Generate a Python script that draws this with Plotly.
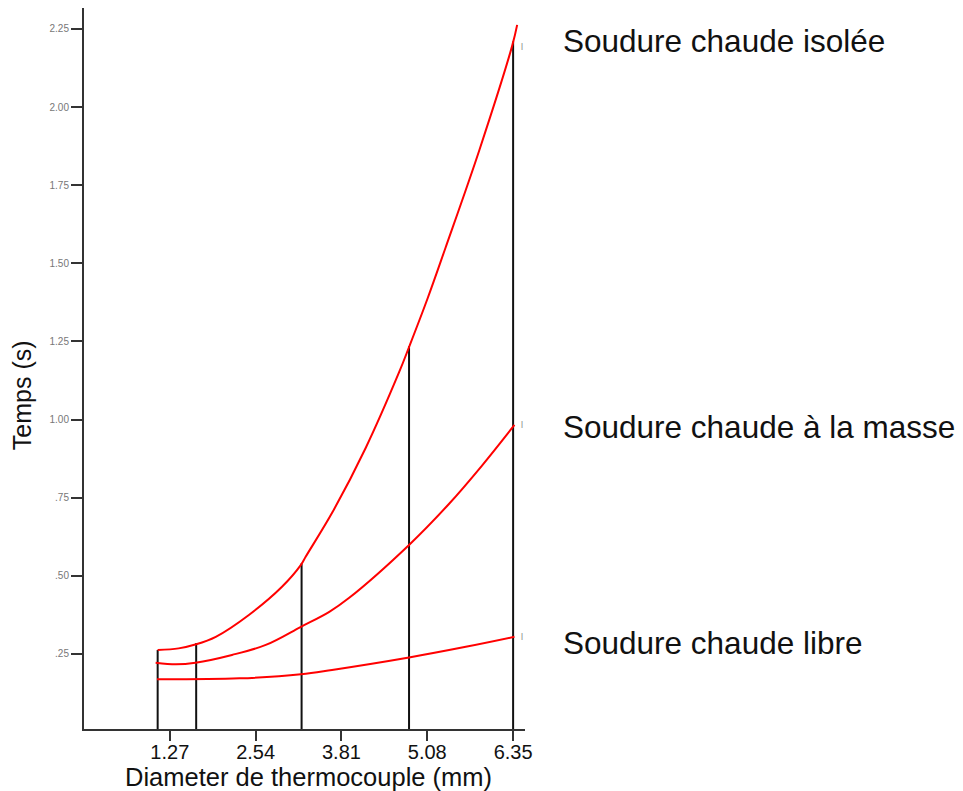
import plotly.graph_objects as go

# ---- data ----
diam_isolee = [1.09, 1.40, 1.66, 1.95, 2.44, 2.93, 3.21, 3.28, 3.68, 4.17, 4.66, 4.81, 5.08, 5.35, 5.85, 6.34, 6.41]
temps_isolee = [0.263, 0.268, 0.281, 0.305, 0.375, 0.465, 0.535, 0.561, 0.705, 0.910, 1.150, 1.232, 1.385, 1.550, 1.862, 2.199, 2.263]

diam_masse = [1.06, 1.36, 1.65, 2.19, 2.69, 3.21, 3.63, 3.92, 4.81, 5.40, 5.89, 6.37]
temps_masse = [0.222, 0.217, 0.222, 0.247, 0.279, 0.337, 0.385, 0.429, 0.599, 0.730, 0.853, 0.983]

diam_libre = [1.08, 2.30, 3.21, 3.67, 4.81, 5.65, 6.37]
temps_libre = [0.169, 0.172, 0.185, 0.199, 0.239, 0.273, 0.305]

repere_diam = [1.09, 1.66, 3.22, 4.81, 6.35]
repere_temps = [0.263, 0.285, 0.54, 1.235, 2.21]

x_ticks = [1.27, 2.54, 3.81, 5.08, 6.35]
x_ticktext = ["1.27", "2.54", "3.81", "5.08", "6.35"]
y_ticks = [0.25, 0.5, 0.75, 1.0, 1.25, 1.5, 1.75, 2.0, 2.25]
y_ticktext = [".25", ".50", ".75", "1.00", "1.25", "1.50", "1.75", "2.00", "2.25"]

labels = ["Soudure chaude isolée", "Soudure chaude à la masse", "Soudure chaude libre"]
label_y = [2.21, 0.975, 0.285]

FONT = "Arial, Liberation Sans, Helvetica, sans-serif"

fig = go.Figure()

# vertical reference lines
vx, vy = [], []
for d, t in zip(repere_diam, repere_temps):
    vx += [d, d, None]
    vy += [0, t, None]
fig.add_trace(go.Scatter(x=vx, y=vy, mode="lines",
                         line=dict(color="#111111", width=2), hoverinfo="skip"))

for xs, ys in [(diam_isolee, temps_isolee), (diam_masse, temps_masse), (diam_libre, temps_libre)]:
    fig.add_trace(go.Scatter(x=xs, y=ys, mode="lines",
                             line=dict(color="#ff0000", width=2, shape="spline", smoothing=1.0)))

annotations = []
for txt, yv in zip(labels, label_y):
    annotations.append(dict(text=txt, xref="paper", yref="y", x=1.082, y=yv,
                            xanchor="left", yanchor="middle", showarrow=False,
                            font=dict(family=FONT, size=31.5, color="#111111")))
# tiny marks at the curve ends
for yv in [temps_isolee[-1] - 0.07, temps_masse[-1], temps_libre[-1]]:
    annotations.append(dict(text="l", xref="x", yref="y", x=6.35, y=yv, xshift=9,
                            xanchor="center", yanchor="middle", showarrow=False,
                            font=dict(family=FONT, size=9, color="#888888")))
annotations.append(dict(text="Temps (s)", xref="paper", yref="paper", x=-0.1406, y=0.463,
                        textangle=-90, xanchor="center", yanchor="middle", showarrow=False,
                        font=dict(family=FONT, size=25, color="#111111")))
annotations.append(dict(text="Diameter de thermocouple (mm)", xref="paper", yref="paper",
                        x=0.51, y=-0.066, xanchor="center", yanchor="middle", showarrow=False,
                        font=dict(family=FONT, size=25.5, color="#111111")))

fig.update_layout(
    width=955, height=783,
    margin=dict(l=76, r=438, t=0, b=62, pad=0),
    paper_bgcolor="white", plot_bgcolor="white",
    showlegend=False,
    annotations=annotations,
    xaxis=dict(range=[0, 6.526], tickvals=x_ticks, ticktext=x_ticktext,
               ticks="outside", ticklen=10, tickwidth=2, tickcolor="#333333",
               ticklabelstandoff=-6,
               showline=True, linecolor="#333333", linewidth=2,
               showgrid=False, zeroline=False,
               tickfont=dict(family=FONT, size=20, color="#111111")),
    yaxis=dict(range=[0.01, 2.317], tickvals=y_ticks, ticktext=y_ticktext,
               ticks="outside", ticklen=11, tickwidth=2, tickcolor="#333333",
               showline=True, linecolor="#333333", linewidth=2,
               showgrid=False, zeroline=False,
               tickfont=dict(family=FONT, size=10, color="#777777")),
)

fig.write_html("out.html")
